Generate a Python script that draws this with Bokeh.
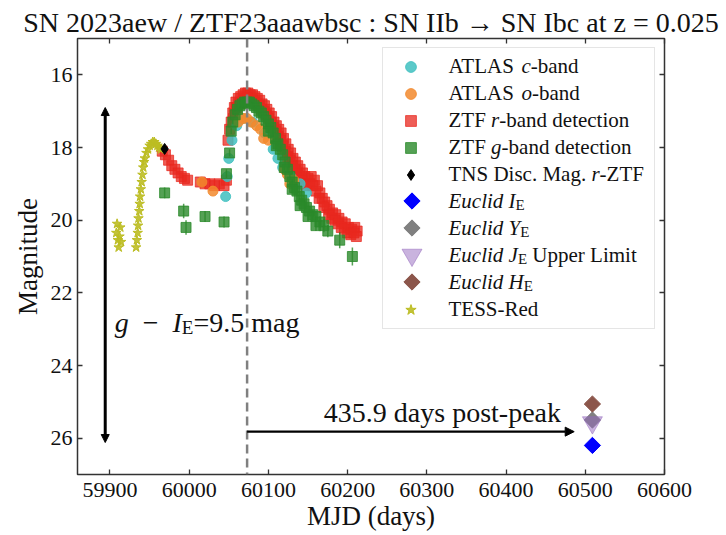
import numpy as np
from bokeh.plotting import figure
from bokeh.models import (Range1d, LinearAxis, Span, Arrow, NormalHead, Legend,
                          LegendItem, ColumnDataSource, FixedTicker, CustomJSTickFormatter)
from bokeh.core.properties import value
from bokeh.embed import file_html
from bokeh.resources import INLINE

FONT = "Liberation Serif"

# ---------------- text / axes ----------------
title_text = "SN 2023aew / ZTF23aaawbsc : SN IIb \u2192 SN Ibc at z = 0.025"
x_label = "MJD (days)"
y_label = "Magnitude"
x_ticks = [59900, 60000, 60100, 60200, 60300, 60400, 60500, 60600]
y_ticks = [16, 18, 20, 22, 24, 26]
x_limits = [59859, 60600]
y_limits = [27.0, 15.0]

# ---------------- data ----------------
tess_mjd = [59908, 59909, 59910, 59911, 59912, 59913, 59914,
            59933, 59934, 59935, 59935.5, 59936, 59937, 59937.5, 59938, 59939, 59940,
            59941, 59942, 59943, 59944,
            59946, 59948, 59950, 59952, 59954, 59956, 59958, 59960, 59962, 59964]
tess_mag = [20.35, 20.1, 20.55, 20.75, 20.45, 20.2, 20.6,
            20.75, 20.55, 20.35, 20.15, 19.95, 19.75, 19.55, 19.35, 19.15, 18.95,
            18.75, 18.55, 18.4, 18.3,
            18.15, 18.05, 17.95, 17.9, 17.85, 17.85, 17.9, 17.95, 18.0, 18.05]

r_mjd = [59966, 59970, 59974, 59978, 59982, 59986, 59990, 59994, 59998,
         60014, 60020, 60026, 60032, 60038, 60044, 60047,
         60049, 60051, 60053, 60055, 60057, 60059,
         60062, 60065, 60068, 60071, 60074, 60077, 60080, 60083, 60086, 60089, 60092,
         60095, 60098, 60101, 60104, 60107, 60110, 60113, 60116, 60119, 60122, 60125,
         60128, 60131, 60134, 60137, 60140, 60143, 60146,
         60150, 60154, 60158, 60162, 60165, 60168, 60171, 60174, 60177, 60181, 60185,
         60189, 60193, 60197, 60201, 60205, 60209, 60212,
         60056, 60060, 60064, 60067, 60070, 60073, 60076, 60079, 60082, 60085,
         60088, 60091, 60094, 60097, 60100, 60103, 60106, 60109, 60112, 60115,
         60118, 60121, 60124, 60127, 60130, 60133, 60136, 60139, 60142, 60145,
         60148, 60152, 60156, 60160, 60164, 60170, 60176, 60180, 60184, 60188,
         60192, 60196, 60200, 60204, 60208, 60211]
r_mag = [18.1, 18.2, 18.35, 18.5, 18.6, 18.7, 18.8, 18.85, 18.9,
         18.95, 19.0, 19.0, 19.05, 19.0, 19.05, 18.9,
         17.8, 17.5, 17.3, 17.05, 16.9, 16.75,
         16.65, 16.6, 16.55, 16.5, 16.5, 16.55, 16.55, 16.6, 16.65, 16.7, 16.8,
         16.85, 16.95, 17.05, 17.15, 17.3, 17.4, 17.5, 17.6, 17.75, 17.9, 18.05,
         18.15, 18.3, 18.4, 18.5, 18.6, 18.7, 18.8,
         18.85, 18.8, 18.9, 19.05, 19.25, 19.4, 19.5, 19.6, 19.7, 19.8, 19.85,
         19.95, 20.05, 20.1, 20.2, 20.25, 20.2, 20.3,
         17.2, 16.9, 16.8, 16.75, 16.7, 16.65, 16.7, 16.7, 16.75, 16.8,
         16.85, 16.95, 17.0, 17.1, 17.2, 17.3, 17.45, 17.55, 17.7, 17.8,
         17.95, 18.1, 18.25, 18.35, 18.5, 18.6, 18.7, 18.8, 18.9, 19.0,
         19.05, 19.0, 19.05, 19.2, 19.4, 19.65, 19.85, 19.95, 20.0, 20.1,
         20.2, 20.25, 20.35, 20.4, 20.35, 20.45]

g_mjd = [59969, 59993, 59996, 60020, 60044, 60047, 60051, 60053, 60055,
         60058, 60061, 60064, 60067, 60070, 60073, 60076, 60079, 60082, 60085, 60088,
         60091, 60094, 60097, 60100, 60103, 60106, 60109, 60112, 60115, 60118, 60121,
         60124, 60127, 60130, 60133, 60136, 60139, 60142, 60145, 60148,
         60152, 60156, 60160, 60165, 60170, 60190, 60206,
         60100, 60110, 60120, 60130, 60140, 60150, 60160, 60175]
g_mag = [19.25, 19.75, 20.2, 19.9, 20.05, 18.72, 18.15, 17.55, 17.3,
         17.1, 16.95, 16.85, 16.8, 16.75, 16.75, 16.75, 16.8, 16.85, 16.9, 17.0,
         17.05, 17.15, 17.25, 17.35, 17.45, 17.6, 17.75, 17.9, 18.05, 18.2, 18.4,
         18.6, 18.8, 18.95, 19.1, 19.2, 19.35, 19.45, 19.55, 19.65,
         19.75, 19.85, 19.9, 20.05, 20.15, 20.55, 21.0,
         17.55, 17.95, 18.55, 19.15, 19.6, 19.9, 20.15, 20.3]
g_err = [0.15, 0.2, 0.2, 0.15, 0.15, 0.12, 0.1, 0.08, 0.06,
         0.05, 0.05, 0.04, 0.04, 0.04, 0.04, 0.04, 0.04, 0.04, 0.04, 0.05,
         0.05, 0.05, 0.05, 0.05, 0.06, 0.06, 0.06, 0.07, 0.07, 0.07, 0.08,
         0.08, 0.09, 0.09, 0.1, 0.1, 0.11, 0.11, 0.12, 0.12,
         0.13, 0.14, 0.15, 0.16, 0.18, 0.22, 0.25,
         0.06, 0.07, 0.08, 0.1, 0.12, 0.13, 0.15, 0.17]

c_mjd = [60046, 60048, 60050, 60054, 60060, 60068, 60080, 60095, 60106, 60112,
         60118, 60128, 60140, 60148]
c_mag = [19.35, 18.8, 18.3, 17.8, 17.4, 17.2, 17.3, 17.6, 18.05, 18.3,
         18.55, 18.8, 19.0, 19.25]

o_mjd = [60016, 60030, 60062, 60068, 60073, 60078, 60085, 60090, 60094, 60100,
         60120, 60124, 60127, 60132]
o_mag = [18.95, 19.2, 17.3, 17.2, 17.2, 17.3, 17.4, 17.5, 17.75, 17.8,
         18.6, 18.75, 19.0, 18.9]

tns_mjd = [59969]
tns_mag = [18.04]

euclid_mjd = [60509.0]
euclid_I = [26.2]
euclid_Y = [25.5]
euclid_J_upper = [25.57]
euclid_H = [25.06]

peak_mjd = 60073.1
days_post_peak = 435.9
color_diff = 9.5
arrow_h_mag = 25.82
arrow_h_end = 60486
arrow_v_mjd = 59894
arrow_v_top = 16.9
arrow_v_bottom = 26.12

legend_rows = [
    [("ATLAS ", "normal"), ("c", "italic"), ("-band", "normal")],
    [("ATLAS ", "normal"), ("o", "italic"), ("-band", "normal")],
    [("ZTF ", "normal"), ("r", "italic"), ("-band detection", "normal")],
    [("ZTF ", "normal"), ("g", "italic"), ("-band detection", "normal")],
    [("TNS Disc. Mag. ", "normal"), ("r", "italic"), ("-ZTF", "normal")],
    [("Euclid I", "italic"), ("E", "sub")],
    [("Euclid Y", "italic"), ("E", "sub")],
    [("Euclid J", "italic"), ("E", "sub"), (" Upper Limit", "normal")],
    [("Euclid H", "italic"), ("E", "sub")],
    [("TESS-Red", "normal")],
]

# ---------------- font metrics (Times / Liberation Serif) ----------------
REG = dict(zip(" -./0123456789:=()", [250, 333, 250, 278] + [500] * 10 + [278, 564, 333, 333]))
REG.update(dict(zip("ABCDEFGHIJKLMNOPQRSTUVWXYZ",
                    [722, 667, 667, 722, 611, 556, 722, 722, 333, 389, 722, 611, 889,
                     722, 722, 556, 722, 667, 556, 611, 722, 722, 944, 722, 722, 611])))
REG.update(dict(zip("abcdefghijklmnopqrstuvwxyz",
                    [444, 500, 444, 500, 444, 333, 500, 500, 278, 278, 500, 278, 778,
                     500, 500, 500, 500, 333, 389, 278, 500, 500, 722, 500, 500, 444])))
REG["\u2212"] = 564
ITA = dict(zip("abcdefghijklmnopqrstuvwxyz",
               [500, 500, 444, 500, 444, 278, 500, 500, 278, 278, 444, 278, 722,
                500, 500, 500, 500, 389, 389, 278, 500, 444, 667, 444, 444, 389]))
ITA.update(dict(zip("EHIJY ", [611, 722, 333, 444, 556, 250])))


def twidth(s, style, size):
    table = ITA if style == "italic" else REG
    return sum(table.get(ch, 500) for ch in s) * size / 1000.0


def build_segments(segs, size_main, size_sub, sub_drop, x_start, base_y):
    """Return rows (text, style, size, x_off, y_off) for a mixed-style string."""
    out = []
    cum = x_start
    for s, st in segs:
        size = size_sub if st == "sub" else size_main
        sty = "normal" if st == "sub" else st
        lead = len(s) - len(s.lstrip(" "))
        cum += twidth(" " * lead, sty, size)
        s2 = s.lstrip(" ")
        out.append((s2, sty, f"{size}px", cum, base_y + (sub_drop if st == "sub" else 0)))
        cum += twidth(s2, sty, size)
    return out


# ---------------- layout ----------------
W, H = 726, 535
BL, BR, BT, BB = 77, 62, 38, 61
FRAME_L, FRAME_R, FRAME_T, FRAME_B = BL, W - BR, BT, H - BB


def px2x(px):
    return x_limits[0] + (px - FRAME_L) / (FRAME_R - FRAME_L) * (x_limits[1] - x_limits[0])


def py2y(py):
    return y_limits[1] + (py - FRAME_T) / (FRAME_B - FRAME_T) * (y_limits[0] - y_limits[1])


p = figure(width=W, height=H, x_range=Range1d(*x_limits), y_range=Range1d(*y_limits),
           output_backend="svg", toolbar_location=None,
           min_border_left=BL, min_border_right=BR, min_border_top=BT, min_border_bottom=BB)
p.xgrid.visible = False
p.ygrid.visible = False
p.outline_line_color = "#333333"
p.outline_line_width = 1.5
p.background_fill_color = "white"
p.border_fill_color = "white"

p.title.text = title_text
p.title.text_font = FONT
p.title.text_font_size = "28px"
p.title.text_font_style = "normal"
p.title.align = "center"
p.title.standoff = 2
p.title.text_color = "#111111"


def style_axis(ax, ticks, labels=True, label_standoff=8, axis_standoff=2):
    ax.ticker = FixedTicker(ticks=ticks)
    ax.major_tick_in = 5
    ax.major_tick_out = 0
    ax.minor_tick_line_color = None
    ax.axis_line_color = None
    ax.major_tick_line_color = "#333333"
    ax.major_tick_line_width = 1.3
    if labels:
        ax.major_label_text_font = FONT
        ax.major_label_text_font_size = "22px"
        ax.major_label_text_color = "#111111"
        ax.major_label_standoff = label_standoff
        ax.axis_label_text_font = FONT
        ax.axis_label_text_font_size = "27px"
        ax.axis_label_text_font_style = "normal"
        ax.axis_label_text_color = "#111111"
        ax.axis_label_standoff = axis_standoff
    else:
        ax.formatter = CustomJSTickFormatter(code="return ''")
        ax.major_label_text_font_size = "0px"
        ax.major_label_standoff = 0


style_axis(p.xaxis[0], x_ticks, label_standoff=8, axis_standoff=1)
style_axis(p.yaxis[0], y_ticks, label_standoff=5, axis_standoff=5)
p.xaxis.axis_label = x_label
p.yaxis.axis_label = y_label
top_ax = LinearAxis()
style_axis(top_ax, x_ticks, labels=False)
right_ax = LinearAxis()
style_axis(right_ax, y_ticks, labels=False)
p.add_layout(top_ax, "above")
p.add_layout(right_ax, "right")

# ---------------- glyphs ----------------
RED = "#e8281f"
GREEN = "#2b8a2b"
CYAN = "#3fbfbf"
ORANGE = "#f28a2e"
OLIVE = "#bcbd22"
BLUE = "#0000ff"
GREY = "#808080"
PURPLE = "#9467bd"
BROWN = "#8c564b"

p.add_layout(Span(location=peak_mjd, dimension="height", line_color="#808080",
                  line_width=2.5, line_dash="9 5"))

r_red = p.scatter(r_mjd, r_mag, marker="square", size=10, fill_color=RED,
                  line_color=RED, fill_alpha=0.75, line_alpha=0.75)
r_cyan = p.scatter(c_mjd, c_mag, marker="circle", size=10, fill_color=CYAN,
                   line_color=CYAN, fill_alpha=0.85, line_alpha=0.85)
r_orange = p.scatter(o_mjd, o_mag, marker="circle", size=10, fill_color=ORANGE,
                     line_color=ORANGE, fill_alpha=0.85, line_alpha=0.85)
g_lo = [m - e for m, e in zip(g_mag, g_err)]
g_hi = [m + e for m, e in zip(g_mag, g_err)]
p.segment(x0=g_mjd, y0=g_lo, x1=g_mjd, y1=g_hi, line_color=GREEN, line_width=1.5,
          line_alpha=0.8)
r_green = p.scatter(g_mjd, g_mag, marker="square", size=10, fill_color=GREEN,
                    line_color=GREEN, fill_alpha=0.8, line_alpha=0.8)
r_tess = p.scatter(tess_mjd, tess_mag, marker="star", size=10, fill_color=OLIVE,
                   line_color=OLIVE, fill_alpha=0.9)
r_tns = p.scatter(tns_mjd, tns_mag, marker="diamond", size=11, fill_color="black",
                  line_color="black")

EU_SIZE = 11.5
p.scatter(euclid_mjd, euclid_I, marker="square", angle=np.pi / 4, size=EU_SIZE,
          fill_color=BLUE, line_color=BLUE)
p.scatter(euclid_mjd, euclid_Y, marker="square", angle=np.pi / 4, size=EU_SIZE,
          fill_color=GREY, line_color=GREY)
p.scatter(euclid_mjd, euclid_J_upper, marker="inverted_triangle", size=20,
          fill_color=PURPLE, line_color=PURPLE, fill_alpha=0.5, line_alpha=0.5)
p.scatter(euclid_mjd, euclid_H, marker="square", angle=np.pi / 4, size=EU_SIZE,
          fill_color=BROWN, line_color=BROWN)

# arrows
p.add_layout(Arrow(x_start=peak_mjd, y_start=arrow_h_mag, x_end=arrow_h_end, y_end=arrow_h_mag,
                   line_width=2.2, line_color="black",
                   end=NormalHead(size=9, fill_color="black", line_color="black")))
p.add_layout(Arrow(x_start=arrow_v_mjd, y_start=arrow_v_top, x_end=arrow_v_mjd,
                   y_end=arrow_v_bottom, line_width=3, line_color="black",
                   start=NormalHead(size=8, fill_color="black", line_color="black"),
                   end=NormalHead(size=8, fill_color="black", line_color="black")))

# annotation texts
ANN = 28
p.text(x=[60170], y=[25.3], text=[f"{days_post_peak} days post-peak"],
       text_font=value(FONT), text_font_size=f"{ANN}px", text_baseline="middle",
       text_align="left", text_color="#111111")

g_segments = [("g", "italic"), ("  \u2212", "normal"), ("  I", "italic"), ("E", "sub"),
              (f"={color_diff} mag", "normal")]
rows = build_segments(g_segments, ANN, 19, 5, 0.0, 0.0)
src_g = ColumnDataSource(dict(x=[59906] * len(rows), y=[22.82] * len(rows),
                              text=[r[0] for r in rows], style=[r[1] for r in rows],
                              size=[r[2] for r in rows], xo=[r[3] for r in rows],
                              yo=[r[4] for r in rows]))
p.text(x="x", y="y", text="text", source=src_g, x_offset="xo", y_offset="yo",
       text_font=value(FONT), text_font_style="style", text_font_size="size",
       text_baseline="alphabetic", text_align="left", text_color="#111111")

# ---------------- legend ----------------
LEG_MARGIN, LEG_PAD, GLYPH_W, GLYPH_H, STANDOFF, LABEL_W = 9, 5, 45, 27, 14, 202
dummy = p.scatter([], [], marker="circle", size=1, fill_alpha=0, line_alpha=0)
legend_renderers = [r_cyan, r_orange, r_red, r_green, r_tns, dummy, dummy, dummy, dummy, r_tess]
items = [LegendItem(label=" ", renderers=[r]) for r in legend_renderers]
legend = Legend(items=items, location="top_right", margin=LEG_MARGIN, padding=LEG_PAD,
                spacing=0, glyph_width=GLYPH_W, glyph_height=GLYPH_H, label_height=GLYPH_H,
                label_width=LABEL_W, label_standoff=STANDOFF, label_text_font=FONT,
                label_text_font_size="18px", border_line_color="#cccccc",
                border_line_width=1.2, background_fill_alpha=0.0)
p.add_layout(legend)

box_w = 2 * LEG_PAD + GLYPH_W + STANDOFF + LABEL_W
box_left = FRAME_R - LEG_MARGIN - box_w
glyph_cx = box_left + LEG_PAD + GLYPH_W / 2
row_cy = [FRAME_T + LEG_MARGIN + LEG_PAD + GLYPH_H * (i + 0.5) for i in range(len(legend_rows))]

# Euclid legend swatches (legend ignores marker rotation)
for idx, col, mk, sz, al in [(5, BLUE, "square", EU_SIZE, 1.0), (6, GREY, "square", EU_SIZE, 1.0),
                             (7, PURPLE, "inverted_triangle", 20, 0.5),
                             (8, BROWN, "square", EU_SIZE, 1.0)]:
    rr = p.scatter([px2x(glyph_cx)], [py2y(row_cy[idx])], marker=mk, size=sz,
                   angle=(np.pi / 4 if mk == "square" else 0.0),
                   fill_color=col, line_color=col, fill_alpha=al, line_alpha=al)
    rr.level = "overlay"

LEG_FS = 21
text_x0 = -(LEG_MARGIN + box_w) + LEG_PAD + GLYPH_W + STANDOFF
anchor_x = x_limits[1] - 1e-3
anchor_y = y_limits[1] + 1e-4
lt, lst, lsz, lxo, lyo = [], [], [], [], []
for i, row in enumerate(legend_rows):
    base_y = LEG_MARGIN + LEG_PAD + GLYPH_H * (i + 0.5) + 0
    for s, sty, sz, xo, yo in build_segments(row, LEG_FS, 15, 4, text_x0, base_y):
        lt.append(s); lst.append(sty); lsz.append(sz); lxo.append(xo); lyo.append(yo)
src_l = ColumnDataSource(dict(x=[anchor_x] * len(lt), y=[anchor_y] * len(lt), text=lt,
                              style=lst, size=lsz, xo=lxo, yo=lyo))
r_lt = p.text(x="x", y="y", text="text", source=src_l, x_offset="xo", y_offset="yo",
              text_font=value(FONT), text_font_style="style", text_font_size="size",
              text_baseline="alphabetic", text_align="left", text_color="#111111")
r_lt.level = "overlay"

open("out.html", "w").write(file_html(p, INLINE))
